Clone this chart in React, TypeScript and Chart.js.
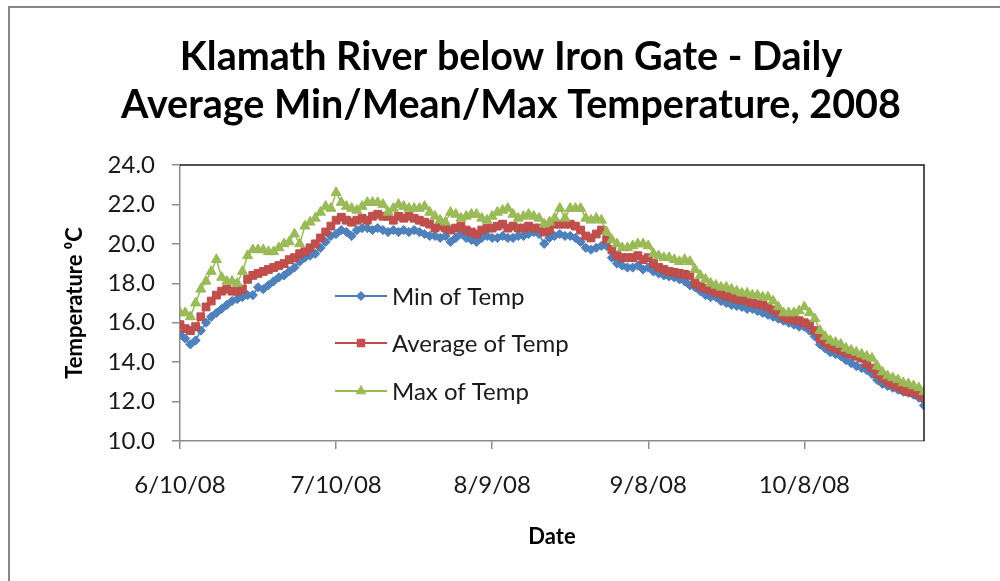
import React, { useEffect, useRef } from 'react';
import { Chart, registerables } from 'chart.js';

Chart.register(...registerables);

// ---------- data ----------
const startYear = 2008;
const startMonth = 6; // June
const startDay = 10;

const minTemp = [
  15.4, 15.2, 14.9, 15.1, 15.6, 16.0, 16.3, 16.5, 16.7, 16.9,
  17.1, 17.2, 17.3, 17.4, 17.4, 17.8, 17.7, 17.9, 18.1, 18.3,
  18.4, 18.6, 18.8, 19.1, 19.3, 19.4, 19.5, 19.8, 20.1, 20.4,
  20.5, 20.7, 20.6, 20.4, 20.7, 20.8, 20.8, 20.7, 20.8, 20.7,
  20.6, 20.7, 20.6, 20.7, 20.6, 20.7, 20.6, 20.5, 20.4, 20.4,
  20.3, 20.4, 20.1, 20.3, 20.5, 20.3, 20.2, 20.1, 20.3, 20.4,
  20.3, 20.3, 20.4, 20.3, 20.3, 20.4, 20.4, 20.5, 20.6, 20.5,
  20.0, 20.3, 20.4, 20.5, 20.4, 20.4, 20.3, 20.1, 19.8, 19.7,
  19.8, 19.9, 19.9, 19.3, 19.0, 18.9, 18.8, 18.8, 18.9, 18.7,
  18.8, 18.6, 18.5, 18.4, 18.35, 18.3, 18.2, 18.1, 17.9, 17.8,
  17.6, 17.4, 17.3, 17.3, 17.1, 17.0, 16.9, 16.85, 16.8, 16.7,
  16.7, 16.6, 16.5, 16.4, 16.3, 16.2, 16.1, 16.0, 15.9, 15.8,
  15.8, 15.6, 15.3, 14.9, 14.7, 14.5, 14.4, 14.3, 14.1, 13.95,
  13.8, 13.7, 13.6, 13.4, 13.1, 12.9, 12.8, 12.7, 12.6, 12.5,
  12.45, 12.35, 12.2, 11.8,
];

const avgTemp = [
  15.9, 15.7, 15.6, 15.8, 16.3, 16.8, 17.1, 17.4, 17.6, 17.7,
  17.6, 17.6, 17.7, 18.2, 18.4, 18.5, 18.6, 18.7, 18.8, 18.9,
  19.0, 19.2, 19.3, 19.5, 19.6, 19.8, 20.0, 20.3, 20.6, 20.9,
  21.2, 21.35, 21.2, 21.1, 21.2, 21.3, 21.2, 21.4, 21.5, 21.4,
  21.4, 21.2, 21.4, 21.3, 21.4, 21.3, 21.2, 21.1, 21.0, 20.8,
  20.9, 20.8, 20.7, 20.8, 20.9, 20.7, 20.6, 20.5, 20.7, 20.8,
  20.8, 20.9, 21.0, 20.8, 20.9, 20.8, 20.8, 20.9, 20.8, 20.8,
  20.6, 20.7, 21.0, 21.0, 21.0, 21.0, 20.9, 20.7, 20.4, 20.3,
  20.5, 20.7, 20.2, 19.7, 19.4, 19.3, 19.3, 19.3, 19.4, 19.2,
  19.3, 19.0, 18.8, 18.7, 18.6, 18.55, 18.5, 18.45, 18.4, 18.0,
  17.85, 17.75, 17.65, 17.55, 17.45, 17.35, 17.3, 17.2, 17.15, 17.1,
  17.0, 16.95, 16.9, 16.8, 16.65, 16.5, 16.3, 16.2, 16.15, 16.1,
  16.0, 15.9, 15.6, 15.2, 15.0, 14.8, 14.7, 14.6, 14.5, 14.4,
  14.3, 14.2, 13.9, 13.7, 13.4, 13.2, 13.0, 12.85, 12.75, 12.6,
  12.5, 12.45, 12.35, 12.2,
];

const maxTemp = [
  16.5, 16.5, 16.3, 17.0, 17.7, 18.1, 18.6, 19.2, 18.3, 18.1,
  18.1, 18.0, 18.6, 19.4, 19.7, 19.7, 19.7, 19.6, 19.6, 19.8,
  20.0, 20.1, 20.5, 20.0, 20.9, 21.1, 21.3, 21.6, 21.9, 21.8,
  22.6, 22.1, 21.9, 21.8, 21.7, 21.9, 22.1, 22.1, 22.1, 22.0,
  21.6, 21.8, 22.0, 21.9, 21.8, 21.8, 21.8, 21.9, 21.6, 21.4,
  21.2, 21.1, 21.6, 21.5, 21.3, 21.4, 21.5, 21.5, 21.3, 21.2,
  21.4, 21.6, 21.7, 21.8, 21.5, 21.3, 21.4, 21.5, 21.4, 21.3,
  21.0, 21.1, 21.3, 21.8, 21.3, 21.8, 21.8, 21.8, 21.3, 21.2,
  21.3, 21.2, 20.6, 20.2, 20.0, 19.8, 19.8, 19.9, 20.0, 20.0,
  19.9, 19.5, 19.4, 19.3, 19.3, 19.2, 19.1, 19.2, 19.1, 18.7,
  18.4, 18.2, 18.0, 17.9, 17.8, 17.8, 17.7, 17.6, 17.5, 17.5,
  17.4, 17.4, 17.3, 17.3, 17.1, 16.8, 16.5, 16.5, 16.5, 16.6,
  16.8, 16.5, 16.2, 15.6, 15.3, 15.1, 15.0, 14.9, 14.7, 14.6,
  14.5, 14.4, 14.3, 14.2, 13.8, 13.5, 13.3, 13.2, 13.1, 12.95,
  12.9, 12.8, 12.7, 12.5,
];

const xTickLabels = ['6/10/08', '7/10/08', '8/9/08', '9/8/08', '10/8/08'];
const yMin = 10;
const yMax = 24;
const yStep = 2;

const titleLines = ['Klamath River below Iron Gate - Daily', 'Average Min/Mean/Max Temperature, 2008'];
const seriesNames = ['Min of Temp', 'Average of Temp', 'Max of Temp'];

// consecutive daily dates as category labels (M/D/YY)
const dateLabels: string[] = minTemp.map((_, i) => {
  const d = new Date(startYear, startMonth - 1, startDay + i);
  return `${d.getMonth() + 1}/${d.getDate()}/${String(d.getFullYear()).slice(2)}`;
});

// ---------- styling ----------
const FONT = 'Lato';
const TEXT = '#1a1a1a';
const AXIS = '#8c8c8c';

function drawMarker(ctx: CanvasRenderingContext2D, style: string, x: number, y: number, r: number, fill: string) {
  ctx.beginPath();
  if (style === 'rectRot') {
    ctx.moveTo(x, y - r);
    ctx.lineTo(x + r, y);
    ctx.lineTo(x, y + r);
    ctx.lineTo(x - r, y);
  } else if (style === 'rect') {
    const h = r * Math.SQRT1_2;
    ctx.rect(x - h, y - h, 2 * h, 2 * h);
  } else {
    const s = r * 1.5;
    ctx.moveTo(x, y - r);
    ctx.lineTo(x + s * 0.577, y + r * 0.5);
    ctx.lineTo(x - s * 0.577, y + r * 0.5);
  }
  ctx.closePath();
  ctx.fillStyle = fill;
  ctx.fill();
}

const legendRows = [296, 343, 391];
const legendPlugin = {
  id: 'excelLegend',
  afterDraw(chart: any) {
    const ctx: CanvasRenderingContext2D = chart.ctx;
    [0, 1, 2].forEach((di, row) => {
      const ds = chart.data.datasets[di];
      const y = legendRows[row];
      ctx.save();
      ctx.strokeStyle = ds.borderColor;
      ctx.lineWidth = 2;
      ctx.beginPath();
      ctx.moveTo(335, y);
      ctx.lineTo(387, y);
      ctx.stroke();
      drawMarker(ctx, ds.pointStyle, 361, y, ds.pointRadius + 0.5, ds.pointBackgroundColor);
      ctx.fillStyle = TEXT;
      ctx.font = `24px ${FONT}`;
      ctx.textBaseline = 'middle';
      ctx.textAlign = 'left';
      ctx.fillText(ds.label, 392, y + 1);
      ctx.restore();
    });
  },
};

const frameLinesPlugin = {
  id: 'plotFrame',
  afterDraw(chart: any) {
    const { ctx, chartArea } = chart;
    ctx.save();
    ctx.strokeStyle = '#1a1a1a';
    ctx.lineWidth = 1.5;
    ctx.beginPath();
    ctx.moveTo(chartArea.left, chartArea.top);
    ctx.lineTo(chartArea.right, chartArea.top);
    ctx.lineTo(chartArea.right, chartArea.bottom);
    ctx.stroke();
    ctx.restore();
  },
};

export default function App() {
  const ref = useRef<HTMLCanvasElement>(null);

  useEffect(() => {
    if (!ref.current) return;
    const mk = (arr: number[]) => arr.map((y, i) => ({ x: i, y }));
    const chart = new Chart(ref.current, {
      type: 'line',
      data: {
        labels: dateLabels,
        datasets: [
          {
            label: seriesNames[0],
            data: mk(minTemp),
            borderColor: '#4A7EBB',
            backgroundColor: '#4F81BD',
            pointBackgroundColor: '#4F81BD',
            pointBorderColor: '#4A7EBB',
            pointStyle: 'rectRot',
            pointRadius: 4.6,
            pointBorderWidth: 1,
            borderWidth: 1.5,
            tension: 0,
            order: 2,
          },
          {
            label: seriesNames[1],
            data: mk(avgTemp),
            borderColor: '#BE4B48',
            backgroundColor: '#C0504D',
            pointBackgroundColor: '#C0504D',
            pointBorderColor: '#BE4B48',
            pointStyle: 'rect',
            pointRadius: 5.5,
            pointBorderWidth: 1,
            borderWidth: 1.5,
            tension: 0,
            order: 1,
          },
          {
            label: seriesNames[2],
            data: mk(maxTemp),
            borderColor: '#98B954',
            backgroundColor: '#9BBB59',
            pointBackgroundColor: '#9BBB59',
            pointBorderColor: '#98B954',
            pointStyle: 'triangle',
            pointRadius: 5.8,
            pointBorderWidth: 1,
            borderWidth: 1.5,
            tension: 0,
            order: 0,
          },
        ] as any,
      },
      options: {
        responsive: false,
        animation: false,
        devicePixelRatio: 1,
        layout: { padding: { left: 22, right: 0, top: 0, bottom: 0 } },
        plugins: {
          legend: { display: false },
          tooltip: { enabled: false },
          title: {
            display: true,
            text: titleLines,
            color: '#000',
            font: { family: FONT, size: 39.5, weight: 'bold', lineHeight: 48 / 39.5 },
            padding: { top: 33, bottom: 36 },
          },
        },
        scales: {
          x: {
            type: 'linear',
            min: 0,
            max: dateLabels.length - 1,
            grid: { display: true, drawOnChartArea: false, drawTicks: true, tickLength: 8, color: AXIS, lineWidth: 1.5 },
            border: { display: true, color: AXIS, width: 1.5 },
            ticks: {
              stepSize: 30,
              includeBounds: false,
              autoSkip: false,
              maxRotation: 0,
              minRotation: 0,
              padding: 22,
              color: TEXT,
              font: { family: FONT, size: 24 },
              callback: (v: any) => {
                const l = dateLabels[Math.round(Number(v))];
                return xTickLabels.includes(l) ? l : null;
              },
            },
            title: {
              display: true,
              text: 'Date',
              color: '#000',
              font: { family: FONT, size: 22, weight: 'bold' },
              padding: { top: 0, bottom: 31 },
            },
            afterFit: (s: any) => {
              s.height = 140;
            },
          },
          y: {
            type: 'linear',
            position: 'left',
            min: yMin,
            max: yMax,
            grid: { display: true, drawOnChartArea: false, drawTicks: true, tickLength: 8, color: AXIS, lineWidth: 1.5 },
            border: { display: true, color: AXIS, width: 1.5 },
            ticks: {
              stepSize: yStep,
              padding: 17,
              color: TEXT,
              font: { family: FONT, size: 24 },
              callback: (v: any) => Number(v).toFixed(1),
            },
            title: {
              display: true,
              text: 'Temperature \u2070C',
              color: '#000',
              font: { family: FONT, size: 22, weight: 'bold' },
              padding: { top: 40, bottom: 0 },
            },
            afterFit: (s: any) => {
              s.width = 158;
            },
          },
          yRight: {
            type: 'linear',
            position: 'right',
            display: true,
            grid: { display: false },
            border: { display: false },
            ticks: { display: false },
            afterFit: (s: any) => {
              s.width = 76;
            },
          },
        },
      } as any,
      plugins: [legendPlugin, frameLinesPlugin],
    });
    return () => chart.destroy();
  }, []);

  return (
    <div style={{ position: 'fixed', left: 0, top: 0, width: 1000, height: 581, overflow: 'hidden', background: '#fff' }}>
      <div
        style={{
          position: 'absolute',
          left: 8,
          top: 6,
          width: 1200,
          height: 800,
          borderLeft: '2px solid #888',
          borderTop: '2px solid #888',
        }}
      />
      <canvas
        ref={ref}
        width={1000}
        height={581}
        style={{ position: 'absolute', left: 0, top: 0, width: 1000, height: 581 }}
      />
    </div>
  );
}
